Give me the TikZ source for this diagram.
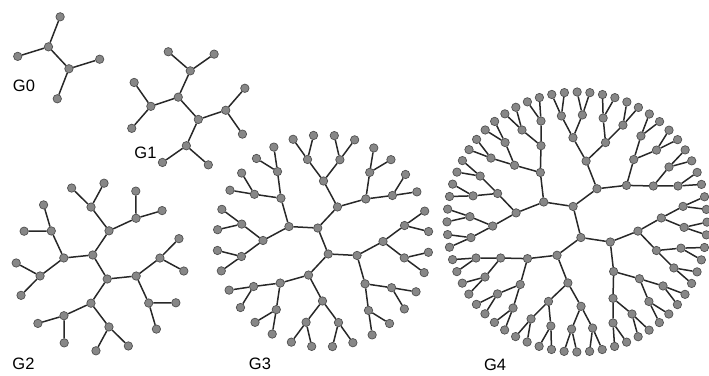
\documentclass[tikz,border=0pt]{standalone}
\usepackage{fontspec}
\setmainfont{Liberation Sans}
\usepackage{xcolor}
\definecolor{beadfill}{RGB}{135,135,135}
\definecolor{beadline}{RGB}{80,80,80}
\definecolor{bondline}{RGB}{40,40,40}

% radial dendrimer: name, cx, cy, core angle, core radius, step, levels
\newcommand{\dendrimer}[7]{%
  \begin{scope}[shift={(#2,#3)}]
    \foreach \k in {1,...,#7}{
      \pgfmathtruncatemacro\last{2^\k-1}
      \pgfmathsetmacro\wedge{360/2^\k}
      \foreach \i in {0,...,\last}{
        \pgfmathsetmacro\ang{#4-90+(\i+0.5)*\wedge}
        \pgfmathsetmacro\rad{#5+(\k-1)*#6}
        \node[bead] (#1-\k-\i) at (\ang:\rad) {};
      }
    }
    % core bond
    \draw[bond] (#1-1-0) -- (#1-1-1);
    % branches
    \foreach \k in {2,...,#7}{
      \pgfmathtruncatemacro\up{\k-1}
      \pgfmathtruncatemacro\last{2^\k-1}
      \foreach \i in {0,...,\last}{
        \pgfmathtruncatemacro\p{floor(\i/2)}
        \draw[bond] (#1-\k-\i) -- (#1-\up-\p);
      }
    }
  \end{scope}%
}

\begin{document}
\begin{tikzpicture}[
    x=1pt, y=1pt,
    bead/.style={circle, draw=beadline, fill=beadfill, line width=0.7pt, inner sep=0pt, minimum size=8.4pt},
    bond/.style={draw=bondline, line width=1.5pt},
    glabel/.style={inner sep=0pt, font=\fontsize{16.5}{18}\selectfont}
]
\useasboundingbox (0,0) rectangle (709,375);

% generations
\dendrimer{g0}{58.7}{317.2}{133}{15}{26}{2}
\dendrimer{g1}{188.3}{266.7}{132}{15}{22.5}{3}
\dendrimer{g2}{100}{108}{121}{14}{23.3}{4}
\dendrimer{g3}{323}{134}{112}{14}{23}{5}
\dendrimer{g4}{577}{153}{104}{16}{22.8}{6}

% labels
\node[glabel] (lab0) at (24,289.5) {G0};
\node[glabel] (lab1) at (145.5,222.5) {G1};
\node[glabel] (lab2) at (23.5,11.5) {G2};
\node[glabel] (lab3) at (260,11) {G3};
\node[glabel] (lab4) at (495,10.5) {G4};
\end{tikzpicture}
\end{document}
